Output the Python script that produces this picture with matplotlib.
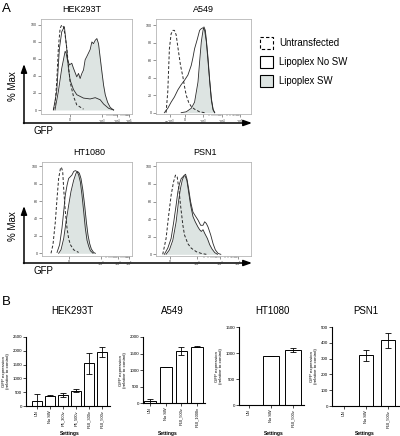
import matplotlib
matplotlib.use('Agg')
import numpy as np
import matplotlib.pyplot as plt
from matplotlib.patches import Rectangle

plt.rcParams['font.family'] = ['Liberation Sans', 'DejaVu Sans']

W, H = 400, 436
fig = plt.figure(figsize=(4, 4.36), dpi=100)

# ---------------- Panel A data (x: % of display width, y: % Max) ----------------
# HEK293T
hek_unt_x = [13.6, 15.4, 17.3, 19.1, 21.0, 22.8, 24.6, 26.5, 28.3, 30.1, 32.0, 35.7, 39.3, 46.7]
hek_unt_y = [0, 6, 33, 73, 96, 100, 98, 88, 73, 53, 33, 16, 6, 1]
hek_nosw_x = [13.6, 17.3, 20.2, 22.8, 25.7, 28.3, 30.1, 32.0, 35.7, 39.3, 46.7, 54.0, 59.6, 65.1, 68.8, 74.3, 79.8]
hek_nosw_y = [0, 22, 72, 92, 98, 72, 49, 35, 24, 18, 14, 13, 14.5, 12, 7, 2, 0]
hek_sw_x = [15.4, 19.1, 22.8, 26.5, 27.6, 29.0, 31.3, 33.8, 35.7, 39.3, 41.2, 43.0, 44.9, 46.7, 48.5,
            50.4, 52.2, 54.0, 55.9, 57.7, 59.6, 61.4, 63.2, 65.1, 66.9, 68.8, 70.6, 73.2, 76.1, 79.8]
hek_sw_y = [0, 22, 49, 69, 67, 59, 53, 55, 49, 39, 43, 37, 43, 47, 59,
            63, 67, 71, 80, 78, 82, 84, 78, 61, 45, 29, 18, 9, 3, 0]

# A549
a549_unt_x = [10.6, 12.4, 14.1, 15.9, 17.7, 19.4, 21.2, 23.0, 25.8, 28.3, 30.0, 31.8, 34.3, 37.1, 40.6, 45.9, 51.2]
a549_unt_y = [0, 24, 73, 90, 94, 94, 89, 75, 54, 41, 30, 20, 12, 7, 4, 1, 0]
a549_nosw_x = [8.8, 12.4, 15.9, 19.4, 23.0, 26.5, 30.0, 33.6, 37.1, 38.9, 40.6, 43.5, 45.9, 47.7, 49.5,
               51.2, 53.0, 54.8, 56.5, 58.3, 60.1, 61.8]
a549_nosw_y = [0, 5, 12, 18, 26, 32, 37, 43, 54, 63, 73, 84, 94, 96, 97, 94, 81, 58, 36, 14, 3, 0]
a549_sw_x = [26.5, 31.8, 37.1, 40.6, 44.2, 45.9, 47.7, 49.5, 50.5, 51.9, 53.0, 54.8, 56.5, 58.3, 60.1, 61.8]
a549_sw_y = [0, 1, 5, 12, 35, 58, 81, 94, 98, 94, 83, 62, 37, 16, 4, 0]

# HT1080
ht_unt_x = [10.0, 12.2, 14.8, 16.7, 18.5, 20.4, 21.5, 23.0, 24.1, 25.9, 27.8, 29.6, 31.5, 35.2, 40.7]
ht_unt_y = [0, 10, 36, 63, 86, 97, 99, 94, 74, 48, 29, 17, 10, 4, 1]
ht_nosw_x = [16.7, 19.6, 22.2, 24.1, 25.9, 27.8, 29.6, 31.5, 33.3, 35.2, 37.0, 38.9, 40.7, 42.6, 44.4,
             46.3, 48.1, 50.0, 51.9, 53.7, 56.7]
ht_nosw_y = [1, 10, 29, 48, 67, 78, 86, 88, 90, 94, 95, 94, 90, 82, 67, 48, 29, 15, 8, 3, 0]
ht_sw_x = [18.5, 21.1, 24.1, 26.7, 29.6, 32.2, 35.2, 37.8, 39.6, 41.5, 43.3, 45.2, 47.4, 49.3, 51.1,
           53.0, 54.8, 57.4, 59.3]
ht_sw_y = [0, 4, 17, 36, 55, 71, 84, 92, 94, 92, 86, 74, 55, 36, 21, 11, 5, 1, 0]

# PSN1
psn_unt_x = [7.1, 10.6, 13.4, 15.9, 18.4, 20.5, 22.3, 24.0, 25.8, 28.3, 30.0, 33.6, 37.1, 42.4, 47.7, 53.0]
psn_unt_y = [0, 18, 45, 67, 82, 90, 88, 75, 56, 33, 22, 12, 7, 3, 1, 0]
psn_nosw_x = [8.8, 12.4, 15.9, 18.7, 21.2, 23.0, 24.7, 26.5, 28.3, 30.0, 31.1, 32.5, 34.3, 36.4, 38.9,
              40.6, 44.2, 47.0, 49.5, 51.2, 53.0, 54.8, 57.6, 60.1, 62.5, 65.4, 68.2]
psn_nosw_y = [0, 7, 18, 37, 56, 71, 80, 86, 88, 90, 91, 86, 75, 60, 48,
              45, 39, 33, 33, 37, 35, 31, 22, 12, 5, 1, 0]
psn_sw_x = [10.6, 14.1, 17.7, 21.2, 23.7, 25.8, 27.6, 29.3, 30.7, 32.5, 34.3, 36.4, 38.9, 41.3, 44.2,
            45.9, 47.7, 49.5, 51.2, 54.1, 56.5, 59.0, 61.8, 64.7]
psn_sw_y = [0, 5, 16, 37, 60, 75, 84, 89, 89, 84, 71, 56, 43, 37, 31,
            28, 26, 28, 24, 18, 11, 6, 2, 0]

hist_titles = ["HEK293T", "A549", "HT1080", "PSN1"]
hek_ticks = [32, 67, 84, 97]
hek_ticklabels = ["0", "$10^3$", "$10^4$", "$10^5$"]
a549_ticks = [14.7, 30.5, 49.5, 69.5, 88]
a549_ticklabels = ["$-10^3$", "0", "$10^3$", "$10^4$", "$10^5$"]
ht_ticks = [30, 65.6, 84, 97]
ht_ticklabels = ["0", "$10^3$", "$10^4$", "$10^5$"]
psn_ticks = [14.7, 43, 67, 86]
psn_ticklabels = ["0", "$10^3$", "$10^4$", "$10^5$"]
y_pct_ticks = [0, 20, 40, 60, 80, 100]

legend_labels = ["Untransfected", "Lipoplex No SW", "Lipoplex SW"]

# ---------------- Panel B data ----------------
hek_b_labels = ["UN", "No SW", "P5_300v", "P5_500v", "P10_300v", "P10_500v"]
hek_b_vals = [180, 370, 400, 560, 1550, 1960]
hek_b_err = [270, 15, 60, 65, 380, 170]
a549_b_labels = ["UN", "No SW", "P10_500v", "P10_1000v"]
a549_b_vals = [50, 1090, 1570, 1710]
a549_b_err = [60, 10, 120, 10]
ht_b_labels = ["UN", "No SW", "P10_500v"]
ht_b_vals = [0, 940, 1060]
ht_b_err = [0, 0, 40]
psn_b_labels = ["UN", "No SW", "P10_500v"]
psn_b_vals = [0, 320, 415]
psn_b_err = [0, 35, 45]

GRAY = "#dde4e2"
LINE = "#2a2a2a"


def fax(l, t, r, b):
    return fig.add_axes([l / W, 1 - b / H, (r - l) / W, (b - t) / H])


def minor_positions(ticks):
    out = []
    for p0, p1 in zip(ticks[:-1], ticks[1:]):
        for k in range(2, 10):
            out.append(p0 + (p1 - p0) * np.log10(k))
    return out


def hist_panel(box, ylim, unt, nosw, sw, ticks, ticklabels, log_start):
    ax = fax(*box)
    ax.fill_between(sw[0], sw[1], 0, color=GRAY, lw=0, zorder=1)
    ax.plot(sw[0], sw[1], color=LINE, lw=0.6, zorder=3)
    ax.plot(nosw[0], nosw[1], color=LINE, lw=0.6, zorder=3)
    ax.plot(unt[0], unt[1], color=LINE, lw=0.7, ls=(0, (3, 2)), zorder=3)
    ax.set_xlim(0, 100)
    ax.set_ylim(*ylim)
    for s in ax.spines.values():
        s.set_color("#b5b5b5")
        s.set_linewidth(0.6)
    ax.set_xticks(ticks)
    ax.set_xticklabels(ticklabels)
    ax.set_xticks(minor_positions(ticks[log_start:]), minor=True)
    ax.set_yticks(y_pct_ticks)
    ax.tick_params(axis='both', which='major', labelsize=2.6, length=2, width=0.4,
                   pad=1, color="#444444", labelcolor="#333333")
    ax.tick_params(axis='x', which='minor', length=1.2, width=0.3, color="#444444")
    return ax


hist_panel((41, 19, 132, 114), (-4.7, 107),
           (hek_unt_x, hek_unt_y), (hek_nosw_x, hek_nosw_y), (hek_sw_x, hek_sw_y),
           hek_ticks, hek_ticklabels, 1)
hist_panel((156, 19, 251, 114), (-1.5, 107),
           (a549_unt_x, a549_unt_y), (a549_nosw_x, a549_nosw_y), (a549_sw_x, a549_sw_y),
           a549_ticks, a549_ticklabels, 2)
hist_panel((42, 162, 132, 256), (-3.1, 104.9),
           (ht_unt_x, ht_unt_y), (ht_nosw_x, ht_nosw_y), (ht_sw_x, ht_sw_y),
           ht_ticks, ht_ticklabels, 1)
hist_panel((156, 162, 251, 256), (-1.9, 104.9),
           (psn_unt_x, psn_unt_y), (psn_nosw_x, psn_nosw_y), (psn_sw_x, psn_sw_y),
           psn_ticks, psn_ticklabels, 1)

# overlay for arrows, labels, legend
ov = fig.add_axes([0, 0, 1, 1], zorder=-1)
ov.set_xlim(0, W)
ov.set_ylim(H, 0)
ov.axis('off')

for ybase, ytop in [(123, 64), (263, 206)]:
    ov.annotate("", xy=(24, ytop), xytext=(24, ybase + 0.5),
                arrowprops=dict(arrowstyle="-|>,head_length=0.5,head_width=0.18", color="k", lw=1.1,
                                shrinkA=0, shrinkB=0))
    ov.annotate("", xy=(252, ybase), xytext=(23.5, ybase),
                arrowprops=dict(arrowstyle="-|>,head_length=0.5,head_width=0.18", color="k", lw=1.1,
                                shrinkA=0, shrinkB=0))
    ov.text(13, ybase - 37, "% Max", rotation=90, ha="center", va="center", fontsize=7)
    ov.text(33, ybase + 8, "GFP", ha="left", va="center", fontsize=7)

ov.text(2, 9, "A", ha="left", va="center", fontsize=9.5)
ov.text(2, 302, "B", ha="left", va="center", fontsize=9.5)

ov.text(82, 10, hist_titles[0], ha="center", va="center", fontsize=6.5)
ov.text(203, 10, hist_titles[1], ha="center", va="center", fontsize=6.5)
ov.text(89, 152, hist_titles[2], ha="center", va="center", fontsize=6.5)
ov.text(205, 152, hist_titles[3], ha="center", va="center", fontsize=6.5)

# legend
ov.add_patch(Rectangle((260, 37), 13, 12, fill=False, ec="k", lw=0.8, ls=(0, (3, 2))))
ov.add_patch(Rectangle((260, 56), 13, 12, fill=False, ec="k", lw=0.8))
ov.add_patch(Rectangle((260, 75), 13, 12, fc=GRAY, ec="k", lw=0.8))
for yy, lab in zip([43, 62, 81], legend_labels):
    ov.text(279, yy, lab, ha="left", va="center", fontsize=6.9)


# ---------------- Panel B bars ----------------
def bar_panel(box_x, xlim, y_bot, y_top, ylim, yticks, labels, vals, errs, width, title, tx, sx):
    l, r = box_x
    ax = fax(l, y_top, r, y_bot)
    x = np.arange(len(vals))
    ax.bar(x, vals, width=width, color="white", edgecolor="k", linewidth=0.7, zorder=2)
    ax.errorbar(x, vals, yerr=errs, fmt='none', ecolor='k', elinewidth=0.6,
                capsize=2, capthick=0.6, zorder=3)
    ax.set_xlim(*xlim)
    ax.set_ylim(*ylim)
    ax.set_yticks(yticks)
    ax.set_xticks(x)
    ax.set_xticklabels(labels, rotation=90)
    for s in ["top", "right"]:
        ax.spines[s].set_visible(False)
    for s in ["left", "bottom"]:
        ax.spines[s].set_linewidth(0.8)
    ax.tick_params(axis='y', labelsize=3.2, length=2, width=0.5, pad=1)
    ax.tick_params(axis='x', labelsize=2.9, length=2, width=0.5, pad=1)
    ax.set_ylabel("GFP expression\n(relative to control)", fontsize=3.2, labelpad=1.5,
                  linespacing=1.0)
    ov.text(tx, 311, title, ha="center", va="center", fontsize=7)
    ov.text(sx, 433, "Settings", ha="center", va="center", fontsize=3.6, fontweight="bold")
    return ax


bar_panel((26, 110), (-0.85, 5.6), 406, 337, (0, 2500), [0, 500, 1000, 1500, 2000, 2500],
          hek_b_labels, hek_b_vals, hek_b_err, 0.75, "HEK293T", 72, 70)
bar_panel((143, 205), (-0.45, 3.5), 403, 337, (0, 2000), [0, 500, 1000, 1500, 2000],
          a549_b_labels, a549_b_vals, a549_b_err, 0.75, "A549", 172, 168)
bar_panel((239, 304), (-0.45, 2.5), 405, 327, (0, 1500), [0, 500, 1000, 1500],
          ht_b_labels, ht_b_vals, ht_b_err, 0.7, "HT1080", 272, 274)
bar_panel((332, 399), (-0.55, 2.5), 406, 327, (0, 500), [0, 100, 200, 300, 400, 500],
          psn_b_labels, psn_b_vals, psn_b_err, 0.6, "PSN1", 366, 365)

fig.savefig("out.png", dpi=100)
